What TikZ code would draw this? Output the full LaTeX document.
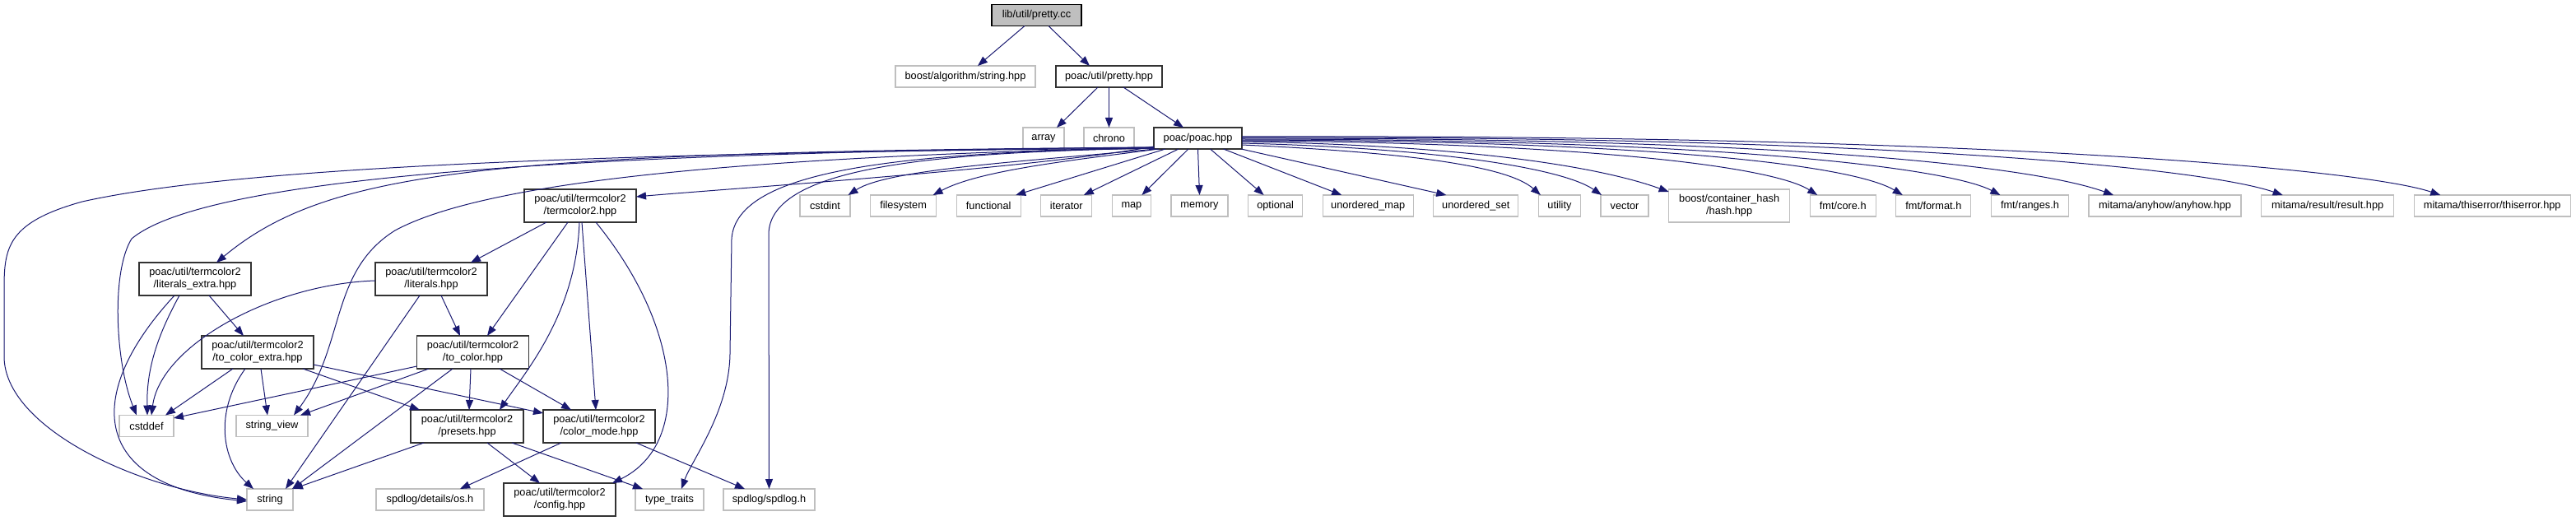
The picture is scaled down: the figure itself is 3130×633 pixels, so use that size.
\documentclass[tikz,border=0pt]{standalone}
\usepackage{fontspec}
\setmainfont{Liberation Sans}
\usepackage{xcolor}
\usetikzlibrary{arrows.meta,positioning}
\definecolor{edgeblue}{HTML}{191970}

\begin{document}
\begin{tikzpicture}[x=1bp,y=1bp,node distance=24.6bp,
    file/.style={draw,rectangle,inner sep=0pt,outer sep=0pt,minimum height=26bp,align=center,line width=1.2bp,font=\fontsize{12.8}{15}\selectfont},
    cur/.style={file,draw=black,fill=black!25},
    hdr/.style={file,draw=black!80,fill=white},
    sys/.style={file,draw=black!25,fill=white},
    two/.style={minimum height=40bp},
    arrow/.style={-{Triangle[length=12bp,width=9bp]},line width=1bp,color=edgeblue}]
  \useasboundingbox (0,-633) rectangle (3130,0);
  \node[cur,minimum width=109bp] (src) at (1259.5,-18.5) {lib/util/pretty.cc};
  \node[sys,minimum width=170bp] (balg) at (1173,-93) {boost/algorithm/string.hpp};
  \node[hdr,minimum width=129bp] (pretty) at (1347.5,-93) {poac/util/pretty.hpp};
  \node[sys,minimum width=50bp] (array) at (1268,-168) {array};
  \node[sys,minimum width=61bp] (chrono) at (1347.5,-168) {chrono};
  \node[hdr,minimum width=107bp] (poac) at (1455.5,-168) {poac/poac.hpp};
  \node[hdr,two,minimum width=136bp] (tc2) at (705,-250) {poac/util/termcolor2\\/termcolor2.hpp};
  \node[sys,minimum width=61bp] (cstdint) at (1002.5,-250) {cstdint};
  \node[sys,minimum width=80bp,right=of cstdint] (fs) {filesystem};
  \node[sys,minimum width=78bp,right=of fs] (func) {functional};
  \node[sys,minimum width=62bp,right=of func] (iter) {iterator};
  \node[sys,minimum width=47bp,right=of iter] (map) {map};
  \node[sys,minimum width=69bp,right=of map] (mem) {memory};
  \node[sys,minimum width=66bp,right=of mem] (opt) {optional};
  \node[sys,minimum width=110bp,right=of opt] (umap) {unordered\_map};
  \node[sys,minimum width=103bp,right=of umap] (uset) {unordered\_set};
  \node[sys,minimum width=51bp,right=of uset] (util) {utility};
  \node[sys,minimum width=58bp,right=of util] (vec) {vector};
  \node[sys,two,minimum width=147bp,right=of vec] (hash) {boost/container\_hash\\/hash.hpp};
  \node[sys,minimum width=80bp,right=of hash] (fcore) {fmt/core.h};
  \node[sys,minimum width=91bp,right=of fcore] (fform) {fmt/format.h};
  \node[sys,minimum width=94bp,right=of fform] (frang) {fmt/ranges.h};
  \node[sys,minimum width=185bp,right=of frang] (anyhow) {mitama/anyhow/anyhow.hpp};
  \node[sys,minimum width=161bp,right=of anyhow] (result) {mitama/result/result.hpp};
  \node[sys,minimum width=190bp,right=of result] (thiserr) {mitama/thiserror/thiserror.hpp};
  \node[hdr,two,minimum width=136bp] (litx) at (237,-339) {poac/util/termcolor2\\/literals\_extra.hpp};
  \node[hdr,two,minimum width=136bp] (lit) at (524,-339) {poac/util/termcolor2\\/literals.hpp};
  \node[hdr,two,minimum width=136bp] (tcx) at (313,-428) {poac/util/termcolor2\\/to\_color\_extra.hpp};
  \node[hdr,two,minimum width=136bp] (tcol) at (574.5,-428) {poac/util/termcolor2\\/to\_color.hpp};
  \node[sys,minimum width=66bp] (cstddef) at (178,-517.5) {cstddef};
  \node[sys,minimum width=87bp] (sview) at (330.5,-517.5) {string\_view};
  \node[hdr,two,minimum width=137bp] (pre) at (567.5,-518) {poac/util/termcolor2\\/presets.hpp};
  \node[hdr,two,minimum width=136bp] (cmode) at (728,-518) {poac/util/termcolor2\\/color\_mode.hpp};
  \node[sys,minimum width=56bp] (str) at (328,-607) {string};
  \node[sys,minimum width=131bp] (os) at (522.5,-607) {spdlog/details/os.h};
  \node[hdr,two,minimum width=136bp] (cfg) at (680,-607) {poac/util/termcolor2\\/config.hpp};
  \node[sys,minimum width=83bp] (ttr) at (813.5,-607) {type\_traits};
  \node[sys,minimum width=111bp] (spd) at (934.5,-607) {spdlog/spdlog.h};
  \draw[arrow] ([xshift=-14.5bp]src.south) -- ([xshift=15bp]balg.north);
  \draw[arrow] ([xshift=14.5bp]src.south) -- ([xshift=-23.5bp]pretty.north);
  \draw[arrow] ([xshift=-13.5bp]pretty.south) -- ([xshift=16bp]array.north);
  \draw[arrow] (pretty.south) -- (chrono.north);
  \draw[arrow] ([xshift=17.5bp]pretty.south) -- ([xshift=-17.5bp]poac.north);
  \draw[arrow] ([xshift=2bp]poac.south west) .. controls (1250,-196) and (1080,-205) .. ([xshift=28bp]cstdint.north);
  \draw[arrow] ([xshift=6bp]poac.south west) .. controls (1300,-195) and (1190,-207) .. ([xshift=36bp]fs.north);
  \draw[arrow] ([xshift=14bp]poac.south west) -- ([xshift=33bp]func.north);
  \draw[arrow] ([xshift=30bp]poac.south west) -- ([xshift=21bp]iter.north);
  \draw[arrow] ([xshift=42bp]poac.south west) -- ([xshift=12.5bp]map.north);
  \draw[arrow] (poac.south) -- (mem.north);
  \draw[arrow] ([xshift=15bp]poac.south) -- ([xshift=-14bp]opt.north);
  \draw[arrow] ([xshift=31bp]poac.south) -- ([xshift=-32bp]umap.north);
  \draw[arrow] ([xshift=-1bp]poac.south east) -- ([xshift=-36bp]uset.north);
  \draw[arrow] ([yshift=-8bp]poac.east) .. controls (1700,-185) and (1830,-200) .. ([xshift=-23bp]util.north);
  \draw[arrow] ([yshift=-6bp]poac.east) .. controls (1750,-180) and (1900,-205) .. ([xshift=-28bp]vec.north);
  \draw[arrow] ([yshift=-4bp]poac.east) .. controls (1800,-177) and (1950,-205) .. ([yshift=-3bp]hash.north west);
  \draw[arrow] ([yshift=-3bp]poac.east) .. controls (1900,-173) and (2150,-200) .. ([xshift=-31bp]fcore.north);
  \draw[arrow] ([yshift=-2bp]poac.east) .. controls (2000,-171) and (2250,-200) .. ([xshift=-37.5bp]fform.north);
  \draw[arrow] ([yshift=-1bp]poac.east) .. controls (2100,-169) and (2370,-205) .. ([xshift=-36bp]frang.north);
  \draw[arrow] (poac.east) .. controls (2200,-167) and (2480,-205) .. ([xshift=-62.5bp]anyhow.north);
  \draw[arrow] ([yshift=1bp]poac.east) .. controls (2300,-165) and (2680,-205) .. ([xshift=-54.5bp]result.north);
  \draw[arrow] ([yshift=2bp]poac.east) .. controls (2400,-163) and (2870,-205) .. ([xshift=-63bp]thiserr.north);
  \draw[arrow] ([yshift=3bp]poac.south west) .. controls (1250,-205) and (900,-228) .. ([yshift=11bp]tc2.east);
  \draw[arrow] ([yshift=2bp]poac.south west) .. controls (600,-185) and (400,-205) .. ([xshift=26bp]litx.north);
  \draw[arrow] ([yshift=2bp]poac.south west) .. controls (700,-185) and (250,-215) .. (160,-290) .. controls (135,-330) and (140,-440) .. ([xshift=-12bp]cstddef.north);
  \draw[arrow] ([yshift=1bp]poac.south west) .. controls (800,-185) and (300,-200) .. (100,-245) .. controls (10,-270) and (5,-300) .. (5,-350) -- (5,-433) .. controls (5,-520) and (170,-595) .. (str.west);
  \draw[arrow] ([yshift=2bp]poac.south west) .. controls (950,-190) and (600,-215) .. (480,-280) .. controls (400,-330) and (420,-420) .. ([xshift=26.5bp]sview.north);
  \draw[arrow] ([yshift=1bp]poac.south west) .. controls (1100,-185) and (895,-205) .. (889,-290) -- (887,-430) .. controls (886,-500) and (840,-560) .. ([xshift=14.5bp]ttr.north);
  \draw[arrow] ([yshift=1bp]poac.south west) .. controls (1150,-185) and (934,-200) .. (934,-285) -- (spd.north);
  \draw[arrow] ([xshift=-41bp]tc2.south) -- ([xshift=48bp]lit.north);
  \draw[arrow] ([xshift=-15bp]tc2.south) -- ([xshift=17.5bp]tcol.north);
  \draw[arrow] ([xshift=-1bp]tc2.south) .. controls (700,-380) and (640,-450) .. ([xshift=39.5bp]pre.north);
  \draw[arrow] ([xshift=2bp]tc2.south) -- ([xshift=-4bp]cmode.north);
  \draw[arrow] ([xshift=19bp]tc2.south) .. controls (830,-400) and (840,-540) .. ([xshift=-4bp]cfg.north east);
  \draw[arrow] ([xshift=-19bp]litx.south) .. controls (190,-410) and (178,-450) .. ([xshift=1bp]cstddef.north);
  \draw[arrow] ([xshift=-25bp]litx.south) .. controls (100,-480) and (110,-590) .. ([yshift=-2bp]str.west);
  \draw[arrow] ([xshift=17bp]litx.south) -- ([xshift=-17bp]tcx.north);
  \draw[arrow] ([yshift=-2bp]lit.west) .. controls (330,-345) and (195,-420) .. ([xshift=6bp]cstddef.north);
  \draw[arrow] ([xshift=-14bp]lit.south) -- ([xshift=19bp]str.north);
  \draw[arrow] ([xshift=12bp]lit.south) -- ([xshift=-15.5bp]tcol.north);
  \draw[arrow] ([xshift=-30bp]tcx.south) -- ([xshift=23bp]cstddef.north);
  \draw[arrow] ([xshift=-15bp]tcx.south) .. controls (260,-500) and (270,-560) .. ([xshift=-20bp]str.north);
  \draw[arrow] ([xshift=4bp]tcx.south) -- ([xshift=-5.5bp]sview.north);
  \draw[arrow] ([xshift=55bp]tcx.south) -- ([xshift=-57.5bp]pre.north);
  \draw[arrow] ([yshift=-15bp]tcx.east) -- ([yshift=16bp]cmode.west);
  \draw[arrow] ([yshift=-17bp]tcol.west) -- ([yshift=9.5bp]cstddef.east);
  \draw[arrow] ([xshift=-53.5bp]tcol.south) -- ([xshift=34.5bp]sview.north);
  \draw[arrow] ([xshift=-24.5bp]tcol.south) -- ([xshift=27bp]str.north);
  \draw[arrow] ([xshift=-2.5bp]tcol.south) -- ([xshift=2.5bp]pre.north);
  \draw[arrow] ([xshift=32.5bp]tcol.south) -- ([xshift=-34bp]cmode.north);
  \draw[arrow] ([xshift=-52.5bp]pre.south) -- (str.north east);
  \draw[arrow] ([xshift=24.5bp]pre.south) -- ([xshift=-24bp]cfg.north);
  \draw[arrow] ([xshift=54.5bp]pre.south) -- ([xshift=-32.5bp]ttr.north);
  \draw[arrow] ([xshift=-46bp]cmode.south) -- ([xshift=36.5bp]os.north);
  \draw[arrow] ([xshift=45bp]cmode.south) -- ([xshift=-29.5bp]spd.north);
\end{tikzpicture}
\end{document}
